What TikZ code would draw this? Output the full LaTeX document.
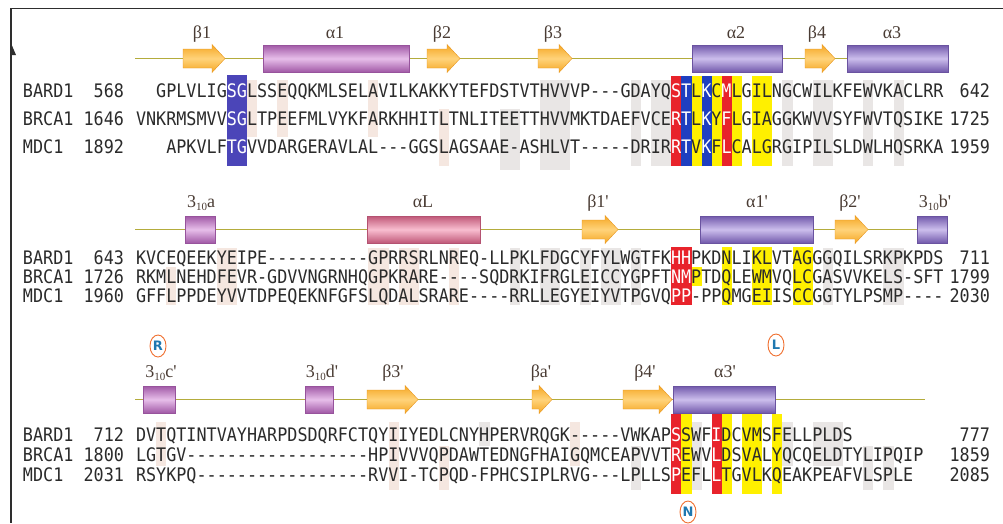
\documentclass[tikz,border=0pt]{standalone}
\usepackage{fontspec}
\newfontfamily\seqfont[Ligatures=TeXOff, FakeStretch=0.9]{DejaVu Sans Mono}
\newfontfamily\lblfont{Liberation Serif}
\newfontfamily\ringfont{DejaVu Sans}
\usetikzlibrary{shapes.geometric}

\definecolor{seqink}{HTML}{2B2B2B}
\definecolor{lblink}{HTML}{4A3C34}
\definecolor{hlred}{HTML}{E8232B}
\definecolor{hlblue}{HTML}{1F3FC0}
\definecolor{hlindigo}{HTML}{4B45B8}
\definecolor{hlyellow}{HTML}{FFF000}
\definecolor{strandD}{HTML}{F5A623}
\definecolor{strandL}{HTML}{FFD37A}
\definecolor{strandE}{HTML}{E8951A}
\definecolor{helixblue}{HTML}{8E6FD6}
\definecolor{helixmag}{HTML}{C96FD0}
\definecolor{helixpink}{HTML}{F06E96}
\definecolor{loopc}{HTML}{B4AC3C}
\definecolor{shadetan}{HTML}{E6C4B2}
\definecolor{shadegray}{HTML}{C9C1BE}
\definecolor{ringc}{HTML}{F07030}
\definecolor{ringt}{HTML}{1F78B0}
\definecolor{framec}{HTML}{2E2E2E}

% column grid of the alignment
\def\xo{136}
\def\pw{10.1}
\newcommand\wh[1]{\textcolor{white}{#1}}
% coloured box behind one alignment column
\newcommand\colbox[4]{\fill[#1] ({\xo+#2*\pw},#3) rectangle ({\xo+(#2+1)*\pw},#4);}
% faint similarity band behind a run of columns
\newcommand\palecols[5]{\fill[#1, fill opacity=.4] ({\xo+#2*\pw},#4) rectangle ({\xo+(#3+1)*\pw},#5);}
% beta strand arrow: left x, tip x, centre y
\newcommand\strandat[3]{\path[strandfill] (#1,#3-9.5) -- (#2-13,#3-9.5) -- (#2-13,#3-14) -- (#2,#3) -- (#2-13,#3+14) -- (#2-13,#3+9.5) -- (#1,#3+9.5) -- cycle;}
% helix cylinder: colour, left x, right x, centre y
\newcommand\helixat[4]{\path[helixfill=#1] (#2,#4-13.5) rectangle (#3,#4+13.5);}

\tikzset{
  seq/.style={inner sep=0pt, outer sep=0pt, text=seqink, font=\seqfont\fontsize{18.63}{19}\selectfont},
  sslabel/.style={inner sep=0pt, anchor=base, text=lblink, font=\lblfont\fontsize{18}{18}\selectfont},
  loopline/.style={draw=loopc, line width=1.5pt},
  strandfill/.style={top color=strandD, bottom color=strandD, middle color=strandL, draw=strandE, line width=0.4pt},
  helixfill/.style={top color=#1!80!black, bottom color=#1!80!black, middle color=#1!45!white, draw=#1!75!black, line width=0.5pt},
  ring/.style={ellipse, draw=ringc, line width=0.9pt, minimum width=16pt, minimum height=22pt, inner sep=0pt, text=ringt, font=\ringfont\bfseries\fontsize{13}{13}\selectfont}
}

\newcommand\sub[1]{\raisebox{-3pt}{\fontsize{11}{11}\selectfont #1}}

\begin{document}
\begin{tikzpicture}[x=1pt,y=-1pt]
\fill[white] (0,0) rectangle (1003,523);
\useasboundingbox (0,0) rectangle (1003,523);

% frame
\draw[framec, line width=1.8pt] (1003,8.5) -- (11,8.5) -- (11,523);
\fill[framec] (10.5,42) -- (16,55) -- (10.5,55) -- cycle;

%================ block 1 : 568-642 ================
\palecols{shadetan}{11}{11}{80}{137}
\palecols{shadetan}{14}{14}{80}{137}
\palecols{shadetan}{23}{23}{80}{137}
\palecols{shadetan}{30}{30}{109}{166}
\palecols{shadegray}{36}{37}{109}{170}
\palecols{shadegray}{40}{42}{80}{170}
\palecols{shadegray}{49}{49}{80}{166}
\palecols{shadegray}{51}{52}{80}{166}
\palecols{shadegray}{64}{64}{80}{166}
\palecols{shadegray}{67}{68}{80}{166}
\palecols{shadegray}{72}{72}{80}{166}
\palecols{shadegray}{75}{75}{80}{166}

\colbox{hlindigo}{9}{75}{166}
\colbox{hlindigo}{10}{75}{166}
\colbox{hlred}{53}{76}{166}
\colbox{hlblue}{54}{76}{166}
\colbox{hlyellow}{55}{76}{166}
\colbox{hlblue}{56}{76}{166}
\colbox{hlyellow}{57}{76}{166}
\colbox{hlred}{58}{76}{166}
\colbox{hlyellow}{59}{76}{166}
\colbox{hlyellow}{61}{76}{166}
\colbox{hlyellow}{62}{76}{166}

\draw[loopline] (135,58.5) -- (948,58.5);
\strandat{183}{225}{58.5}
\helixat{helixmag}{263}{409}{58.5}
\strandat{427}{460}{58.5}
\strandat{538}{572}{58.5}
\helixat{helixblue}{692}{782}{58.5}
\strandat{805}{835}{58.5}
\helixat{helixblue}{847}{948}{58.5}

\node[sslabel] (lb1) at (202,38) {β1};
\node[sslabel] (la1) at (335,38) {α1};
\node[sslabel] (lb2) at (442,38) {β2};
\node[sslabel] (lb3) at (553,38) {β3};
\node[sslabel] (la2) at (736,38) {α2};
\node[sslabel] (lb4) at (817,38) {β4};
\node[sslabel] (la3) at (892,38) {α3};

\node[seq, anchor=base west] (n1a) at (23,97) {BARD1};
\node[seq, anchor=base west] (n1b) at (23,125) {BRCA1};
\node[seq, anchor=base west] (n1c) at (23,153) {MDC1};
\node[seq, anchor=base east] (s1a) at (124,97) {568};
\node[seq, anchor=base east] (s1b) at (124,125) {1646};
\node[seq, anchor=base east] (s1c) at (124,153) {1892};
\node[seq, anchor=base west] (q1a) at ({\xo+2*\pw},97) {GPLVLIG\wh{SG}LSSEQQKMLSELAVILKAKKYTEFDSTVTHVVVP---GDAYQ\wh{ST}L\wh{K}C\wh{M}LGILNGCWILKFEWVKACLRR};
\node[seq, anchor=base west] (q1b) at ({\xo},125) {VNKRMSMVV\wh{SG}LTPEEFMLVYKFARKHHITLTNLITEETTHVVMKTDAEFVCE\wh{RT}L\wh{K}Y\wh{F}LGIAGGKWVVSYFWVTQSIKE};
\node[seq, anchor=base west] (q1c) at ({\xo+3*\pw},153) {APKVLF\wh{TG}VVDARGERAVLAL---GGSLAGSAAE-ASHLVT-----DRIR\wh{RT}V\wh{K}F\wh{L}CALGRGIPILSLDWLHQSRKA};
\node[seq, anchor=base east] (e1a) at (990,97) {642};
\node[seq, anchor=base east] (e1b) at (990,125) {1725};
\node[seq, anchor=base east] (e1c) at (990,153) {1959};

%================ block 2 : 643-711 ================
\palecols{shadetan}{3}{3}{267}{305}
\palecols{shadetan}{8}{9}{248}{305}
\palecols{shadetan}{23}{24}{248}{305}
\palecols{shadetan}{26}{27}{248}{305}
\palecols{shadetan}{31}{31}{248}{305}
\palecols{shadegray}{37}{37}{248}{305}
\palecols{shadegray}{40}{41}{248}{305}
\palecols{shadegray}{44}{44}{248}{305}
\palecols{shadegray}{46}{47}{248}{305}
\palecols{shadegray}{49}{49}{248}{305}
\palecols{shadegray}{68}{68}{248}{305}
\palecols{shadegray}{74}{75}{248}{305}

\colbox{hlred}{53}{247}{305}
\colbox{hlred}{54}{247}{305}
\colbox{hlyellow}{55}{267}{286}
\colbox{hlyellow}{58}{247}{305}
\colbox{hlyellow}{61}{247}{305}
\colbox{hlyellow}{62}{247}{305}
\colbox{hlyellow}{65}{247}{305}
\colbox{hlyellow}{66}{247}{305}

\draw[loopline] (135,229.5) -- (945,229.5);
\helixat{helixmag}{185}{215}{229.5}
\helixat{helixpink}{367}{480}{229.5}
\strandat{582}{618}{229.5}
\helixat{helixblue}{700}{813}{229.5}
\strandat{835}{868}{229.5}
\helixat{helixblue}{917}{947}{229.5}

\node[sslabel] (l3a) at (201,207) {3\sub{10}a};
\node[sslabel] (laL) at (423,207) {αL};
\node[sslabel] (lb1p) at (598,207) {β1'};
\node[sslabel] (la1p) at (757,207) {α1'};
\node[sslabel] (lb2p) at (850,207) {β2'};
\node[sslabel] (l3b) at (935,207) {3\sub{10}b'};

\node[seq, anchor=base west] (n2a) at (23,264) {BARD1};
\node[seq, anchor=base west] (n2b) at (23,283) {BRCA1};
\node[seq, anchor=base west] (n2c) at (23,302) {MDC1};
\node[seq, anchor=base east] (s2a) at (124,264) {643};
\node[seq, anchor=base east] (s2b) at (124,283) {1726};
\node[seq, anchor=base east] (s2c) at (124,302) {1960};
\node[seq, anchor=base west] (q2a) at ({\xo},264) {KVCEQEEKYEIPE----------GPRRSRLNREQ-LLPKLFDGCYFYLWGTFK\wh{HH}PKDNLIKLVTAGGGQILSRKPKPDS};
\node[seq, anchor=base west] (q2b) at ({\xo},283) {RKMLNEHDFEVR-GDVVNGRNHQGPKRARE----SQDRKIFRGLEICCYGPFT\wh{NM}PTDQLEWMVQLCGASVVKELS-SFT};
\node[seq, anchor=base west] (q2c) at ({\xo},302) {GFFLPPDEYVVTDPEQEKNFGFSLQDALSRARE----RRLLEGYEIYVTPGVQ\wh{PP}-PPQMGEIISCCGGTYLPSMP----};
\node[seq, anchor=base east] (e2a) at (990,264) {711};
\node[seq, anchor=base east] (e2b) at (990,283) {1799};
\node[seq, anchor=base east] (e2c) at (990,302) {2030};

\node[ring] (ringR) at (158,346) {R};
\node[ring] (ringL) at (776,345) {L};

%================ block 3 : 712-777 ================
\palecols{shadetan}{2}{2}{422}{466}
\palecols{shadetan}{25}{25}{422}{490}
\palecols{shadetan}{30}{30}{446}{490}
\palecols{shadegray}{34}{34}{422}{446}
\palecols{shadetan}{43}{43}{422}{466}
\palecols{shadegray}{49}{49}{446}{490}
\palecols{shadegray}{55}{55}{422}{490}
\palecols{shadegray}{64}{64}{422}{466}
\palecols{shadegray}{67}{69}{422}{466}
\palecols{shadegray}{72}{72}{446}{490}
\palecols{shadegray}{74}{74}{446}{490}

\colbox{hlred}{53}{414}{494}
\colbox{hlyellow}{54}{414}{494}
\colbox{hlred}{57}{414}{494}
\colbox{hlyellow}{58}{414}{494}
\colbox{hlyellow}{60}{414}{494}
\colbox{hlyellow}{61}{414}{494}
\colbox{hlyellow}{63}{414}{494}

\draw[loopline] (135,399.5) -- (925,399.5);
\helixat{helixmag}{143}{175}{399.5}
\helixat{helixmag}{305}{333}{399.5}
\strandat{367}{418}{399.5}
\strandat{532}{552}{399.5}
\strandat{623}{672}{399.5}
\helixat{helixblue}{673}{775}{399.5}

\node[sslabel] (l3c) at (161,377) {3\sub{10}c'};
\node[sslabel] (l3d) at (322,377) {3\sub{10}d'};
\node[sslabel] (lb3p) at (393,377) {β3'};
\node[sslabel] (lbap) at (541,377) {βa'};
\node[sslabel] (lb4p) at (645,377) {β4'};
\node[sslabel] (la3p) at (725,377) {α3'};

\node[seq, anchor=base west] (n3a) at (23,441) {BARD1};
\node[seq, anchor=base west] (n3b) at (23,461) {BRCA1};
\node[seq, anchor=base west] (n3c) at (23,481) {MDC1};
\node[seq, anchor=base east] (s3a) at (124,441) {712};
\node[seq, anchor=base east] (s3b) at (124,461) {1800};
\node[seq, anchor=base east] (s3c) at (124,481) {2031};
\node[seq, anchor=base west] (q3a) at ({\xo},441) {DVTQTINTVAYHARPDSDQRFCTQYIIYEDLCNYHPERVRQGK-----VWKAP\wh{S}SWF\wh{I}DCVMSFELLPLDS};
\node[seq, anchor=base west] (q3b) at ({\xo},461) {LGTGV------------------HPIVVVQPDAWTEDNGFHAIGQMCEAPVVT\wh{R}EWV\wh{L}DSVALYQCQELDTYLIPQIP};
\node[seq, anchor=base west] (q3c) at ({\xo},481) {RSYKPQ-----------------RVVI-TCPQD-FPHCSIPLRVG---LPLLS\wh{P}EFL\wh{L}TGVLKQEAKPEAFVLSPLE};
\node[seq, anchor=base east] (e3a) at (990,441) {777};
\node[seq, anchor=base east] (e3b) at (990,461) {1859};
\node[seq, anchor=base east] (e3c) at (990,481) {2085};

\node[ring] (ringN) at (688,512) {N};
\end{tikzpicture}
\end{document}
